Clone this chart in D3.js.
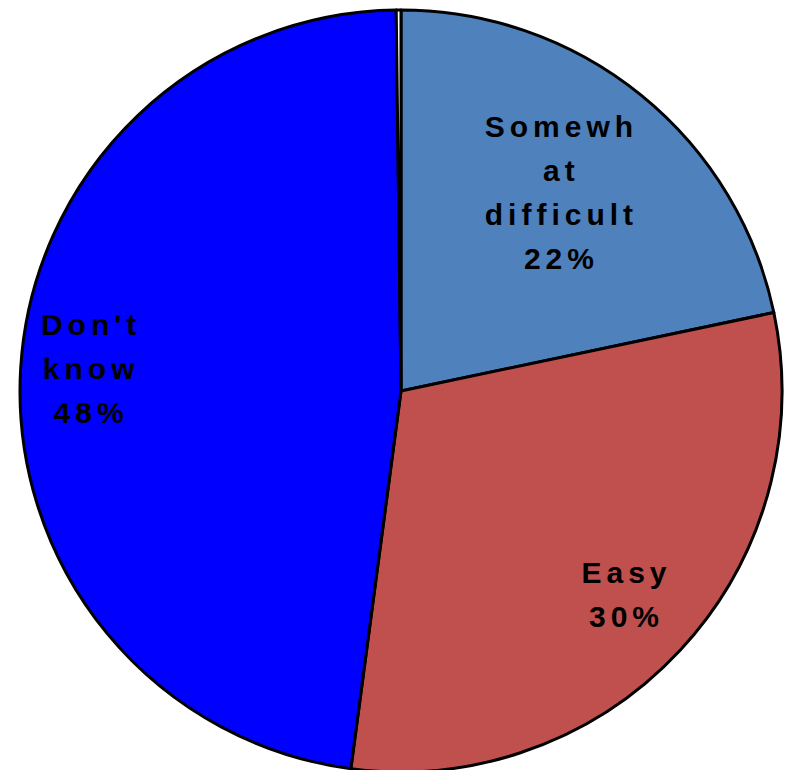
<!DOCTYPE html>
<html>
<head>
<meta charset="utf-8">
<script src="https://cdn.jsdelivr.net/npm/d3@7"></script>
<style>
html,body{margin:0;padding:0;background:#fff;}
svg{display:block;}
</style>
</head>
<body>
<svg id="chart" width="790" height="770"></svg>
<script>
// Data
const categories = ["Somewhat difficult", "Easy", "Don't know", "Other"];
const values = [21.7, 30.4, 47.7, 0.2];
const labelLines = [["Somewh", "at", "difficult", "22%"], ["Easy", "30%"], ["Don't", "know", "48%"], []];

// Layout / style (not data)
const colors = ["#4F81BD", "#C0504D", "#0000FF", "#FFFFFF"];
const labelRadiusFactor = [0.66, 0.80, 0.82, 0];

const cx = 401, cy = 391, r = 381;
const lineH = 44;

const svg = d3.select("#chart");
const g = svg.append("g").attr("transform", `translate(${cx},${cy})`);

const pie = d3.pie().sort(null).value(d => d.v);
const data = categories.map((c, i) => ({c, v: values[i], i}));
const arcs = pie(data);
const arc = d3.arc().innerRadius(0).outerRadius(r);

g.selectAll("path.slice").data(arcs).enter().append("path")
  .attr("class", "slice")
  .attr("d", arc)
  .attr("fill", d => colors[d.data.i])
  .attr("stroke", "#000")
  .attr("stroke-width", 3)
  .attr("stroke-linejoin", "round");

const labels = g.selectAll("g.lbl").data(arcs.filter(d => labelLines[d.data.i].length)).enter()
  .append("g").attr("class", "lbl")
  .attr("transform", d => {
    const a = (d.startAngle + d.endAngle) / 2;
    const rr = r * labelRadiusFactor[d.data.i];
    return `translate(${Math.sin(a) * rr},${-Math.cos(a) * rr})`;
  });

labels.each(function(d) {
  const lines = labelLines[d.data.i];
  const n = lines.length;
  const t = d3.select(this).append("text")
    .attr("text-anchor", "middle")
    .attr("font-family", "'Liberation Sans', Arial, sans-serif")
    .attr("font-weight", "bold")
    .attr("font-size", 30)
    .attr("letter-spacing", 5)
    .attr("fill", "#000");
  lines.forEach((s, k) => {
    t.append("tspan")
      .attr("x", 2)
      .attr("y", (k - (n - 1) / 2) * lineH + 7)
      .text(s);
  });
});
</script>
</body>
</html>
